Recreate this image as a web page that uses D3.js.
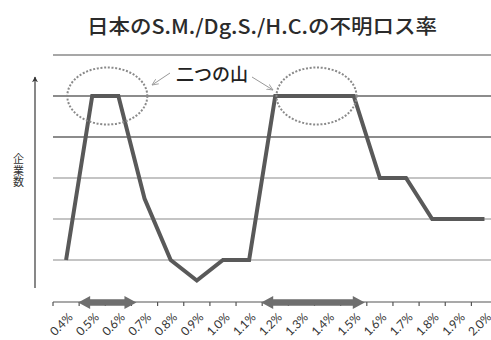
<!DOCTYPE html>
<html><head><meta charset="utf-8">
<script src="https://cdn.jsdelivr.net/npm/d3@7"></script>
<style>
body{margin:0;background:#fff;}
svg{display:block;}
</style></head>
<body>
<svg id="chart" width="491" height="340"></svg>
<script>
const title = "日本のS.M./Dg.S./H.C.の不明ロス率";
const yLabel = ["企","業","数"];
const annotation = "二つの山";
const categories = ["0.4%","0.5%","0.6%","0.7%","0.8%","0.9%","1.0%","1.1%","1.2%","1.3%","1.4%","1.5%","1.6%","1.7%","1.8%","1.9%","2.0%"];
const companies = [1,5,5,2.5,1,0.5,1,1,5,5,5,5,3,3,2,2,2];
const gridValues = [1,2,3,4,5,6];
const peakFrom = ["0.5%","1.2%"];
const peakTo = ["0.6%","1.5%"];

const svg = d3.select("#chart");
const x = d3.scaleBand().domain(categories).range([53, 53 + 17*26.15]).padding(0);
const y = d3.scaleLinear().domain([0,6]).range([301,55]);
const bw = x.bandwidth();
const cx = c => x(c) + bw/2;

// title
svg.append("text").attr("x",262).attr("y",34).attr("text-anchor","middle")
  .attr("font-family","'Noto Sans CJK JP'").attr("font-weight",500).attr("font-size",20).attr("fill","#2b2b2b")
  .attr("textLength",350).attr("lengthAdjust","spacingAndGlyphs")
  .text(title);

// gridlines
svg.append("g").selectAll("line").data(gridValues).join("line")
  .attr("x1",53).attr("x2",491)
  .attr("y1",d=>y(d)).attr("y2",d=>y(d))
  .attr("stroke",d=>(d===4||d===5)?"#1a1a1a":"#8a8a8a")
  .attr("stroke-width",d=>d===6?1.6:1.2);

// y axis arrow
const defs = svg.append("defs");
defs.append("marker").attr("id","yarrow").attr("viewBox","0 0 10 10").attr("refX",9).attr("refY",5)
  .attr("markerWidth",6).attr("markerHeight",6).attr("orient","auto").attr("markerUnits","userSpaceOnUse")
  .append("path").attr("d","M0,0L10,5L0,10L3,5Z").attr("fill","#333");
svg.append("line").attr("x1",35).attr("x2",35).attr("y1",288).attr("y2",77)
  .attr("stroke","#555").attr("stroke-width",1.4).attr("marker-end","url(#yarrow)");

// y label (stacked characters)
svg.append("text").attr("font-family","'Noto Sans CJK JP'").attr("font-size",11).attr("fill","#333")
  .attr("text-anchor","middle")
  .selectAll("tspan").data(yLabel).join("tspan")
  .attr("x",18.5).attr("y",(d,i)=>163+i*11.5)
  .text(d=>d);

// x axis
const xAxisY = 302;
const xg = svg.append("g").attr("transform",`translate(0,${xAxisY})`);
xg.append("line").attr("x1",53).attr("x2",491).attr("stroke","#555").attr("stroke-width",1.2);
xg.selectAll(".tick").data(categories).join("line")
  .attr("x1",d=>x(d)).attr("x2",d=>x(d)).attr("y1",0).attr("y2",4)
  .attr("stroke","#555").attr("stroke-width",1.2);
xg.selectAll("text.lbl").data(categories).join("text").attr("class","lbl")
  .attr("transform",d=>`translate(${cx(d)+4.5},${13}) rotate(-45)`)
  .attr("text-anchor","end").attr("dy","0.35em")
  .attr("font-family","Lato").attr("font-size",12).attr("fill","#333")
  .text(d=>d);

// peak range double arrows
const arrowSpans = peakFrom.map((f,i)=>[x(f)-1, x(peakTo[i])+bw + (i===0?5:-2)]);
svg.append("g").selectAll("path").data(arrowSpans).join("path")
  .attr("d",([a,b])=>{
    const c = xAxisY+0.5, hl=12, hh=6.5, sh=3.2;
    return `M${a},${c}L${a+hl},${c-hh}L${a+hl},${c-sh}L${b-hl},${c-sh}L${b-hl},${c-hh}L${b},${c}L${b-hl},${c+hh}L${b-hl},${c+sh}L${a+hl},${c+sh}L${a+hl},${c+hh}Z`;
  })
  .attr("fill","#6e6e6e");

// data line
svg.append("path").datum(companies)
  .attr("d",d3.line().x((d,i)=>cx(categories[i])).y(d=>y(d)))
  .attr("fill","none").attr("stroke","#595959").attr("stroke-width",4).attr("stroke-linejoin","miter");

// ellipses
const ellipseCenters = peakFrom.map((f,i)=>(cx(f)+cx(peakTo[i]))/2 + 2);
svg.append("g").selectAll("ellipse").data(ellipseCenters).join("ellipse")
  .attr("cx",d=>d).attr("cy",y(5)).attr("rx",40).attr("ry",28.5)
  .attr("fill","none").attr("stroke","#8a8a8a").attr("stroke-width",2)
  .attr("stroke-dasharray","2,1.7");

// annotation
svg.append("text").attr("x",212).attr("y",81).attr("text-anchor","middle")
  .attr("font-family","'Noto Sans CJK JP'").attr("font-weight",500).attr("font-size",18).attr("fill","#222")
  .text(annotation);
defs.append("marker").attr("id","thin").attr("viewBox","0 0 10 10").attr("refX",9).attr("refY",5)
  .attr("markerWidth",7).attr("markerHeight",7).attr("orient","auto").attr("markerUnits","userSpaceOnUse")
  .append("path").attr("d","M0,1L9,5L0,9").attr("fill","none").attr("stroke","#999").attr("stroke-width",1.2);
svg.append("line").attr("x1",170).attr("y1",73).attr("x2",152).attr("y2",85)
  .attr("stroke","#999").attr("stroke-width",1).attr("marker-end","url(#thin)");
svg.append("line").attr("x1",252).attr("y1",77).attr("x2",273).attr("y2",90)
  .attr("stroke","#999").attr("stroke-width",1).attr("marker-end","url(#thin)");
</script>
</body></html>
